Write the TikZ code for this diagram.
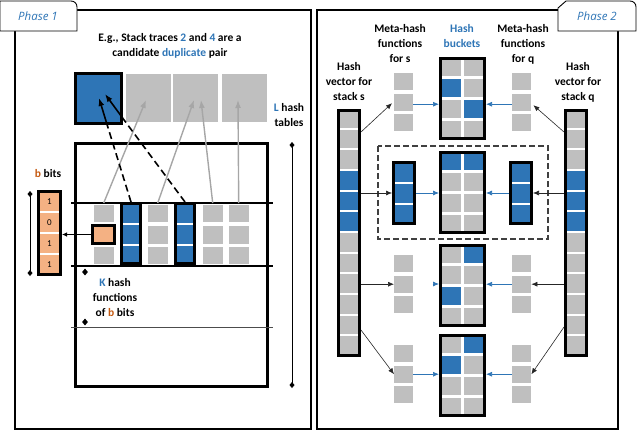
\documentclass[tikz,border=0pt]{standalone}
\usepackage{fontspec}
\setmainfont{Carlito}
\newfontfamily\phasefont{Open Sans}
\usetikzlibrary{arrows.meta,shapes.geometric}
\definecolor{cblue}{HTML}{2E75B6}
\definecolor{cgrey}{HTML}{BFBFBF}
\definecolor{corange}{HTML}{F4B183}
\definecolor{cbrown}{HTML}{C55A11}
\definecolor{lgrey}{HTML}{A6A6A6}
\newcommand\bkt[2]{%
  \foreach \r in {0,...,3}{\foreach \c in {0,1}{%
    \fill[cgrey] ({440.5+\c*23.5},{#1+1.5+\r*20.75}) rectangle +(20.5,17.75);}}%
  \foreach \r/\c in {#2}{%
    \fill[cblue] ({440.5+\c*23.5},{#1+1.5+\r*20.75}) rectangle +(20.5,17.75);}%
}
\newcommand\metasq[2]{%
  \foreach \k in {0,1,2}{\fill[cgrey] (#1,{#2+\k*20.5}) rectangle +(19,17);}%
}
\begin{document}
\begin{tikzpicture}[x=1pt,y=-1pt,
  every node/.style={inner sep=0pt},
  lbl/.style={font=\fontsize{11.5}{15}\selectfont\bfseries, align=center},
  panel/.style={draw=black, line width=2pt},
  tab/.style={draw=black, line width=0.9pt, fill=white},
  phase/.style={text=cblue, font=\phasefont\itshape\fontsize{11.5}{13}\selectfont},
  tbox/.style={draw=black, line width=3pt},
  ghost/.style={minimum width=19pt, minimum height=58pt, anchor=north west},
  gcol/.style={minimum width=19pt, minimum height=61pt, anchor=north west},
  greyarr/.style={draw=lgrey, line width=1.4pt, -{Latex[length=8pt,width=6pt]}},
  dashblk/.style={draw=black, line width=1.6pt, dash pattern=on 7pt off 4pt},
  blkarr/.style={draw=black, line width=1.6pt, -{Latex[length=8pt,width=6pt]}},
  thinarr/.style={draw=black!85, line width=0.6pt, -{Latex[length=6pt,width=5pt]}},
  bluearr/.style={draw=cblue, line width=0.7pt, -{Latex[length=6pt,width=5pt]}},
  dimline/.style={draw=black, line width=0.7pt, {Diamond[length=6pt,width=5pt]}-{Diamond[length=6pt,width=5pt]}},
  dmd/.style={diamond, fill=black, minimum width=6pt, minimum height=7pt},
  bitnum/.style={font=\fontsize{9}{10}\selectfont}
]
\useasboundingbox (0,0) rectangle (640,432);

% ---------------- panels and tabs ----------------
\draw[panel] (15,10) rectangle (311,429);
\draw[panel] (317,10) rectangle (618,429);
\draw[tab] (0,31) -- (0,1) -- (71,1) .. controls (74.5,1) and (77,3.5) .. (77,7) -- (77,31) -- cycle;
\draw[tab] (558,31) -- (558,8) -- (566,1) -- (630,1) .. controls (633.5,1) and (636,3.5) .. (636,7) -- (636,31) -- cycle;
\node[phase] (ph1) at (38,16) {Phase 1};
\node[phase] (ph2) at (597,16) {Phase 2};

% ---------------- Phase 1 ----------------
\node[lbl] (title) at (170,46) {E.g., Stack traces \textcolor{cblue}{2} and \textcolor{cblue}{4} are a\\candidate \textcolor{cblue}{duplicate} pair};

% hash tables
\node[tbox, fill=cblue, minimum width=46pt, minimum height=50pt] (t1) at (98.5,98.5) {};
\node[fill=cgrey, minimum width=45pt, minimum height=48pt] (t2) at (148,98) {};
\node[fill=cgrey, minimum width=45pt, minimum height=48pt] (t3) at (195.5,98) {};
\node[fill=cgrey, minimum width=45pt, minimum height=48pt] (t4) at (244.5,98) {};
\node[lbl] (ltab) at (289,115.5) {\textcolor{cblue}{L} hash\\tables};

% big box
\node[tbox, minimum width=192pt, minimum height=243pt, anchor=center] (hbox) at (171.5,265) {};
\draw[line width=2.4pt] (71,203) -- (273,203);
\draw[line width=2.4pt] (71,266) -- (273,266);
\draw[line width=0.8pt, black!70] (71,327) -- (273,327);

% grey columns
\foreach \x in {94,148,203,229}{
  \fill[cgrey] (\x,205) rectangle +(19.5,17);
  \fill[cgrey] (\x,226) rectangle +(19.5,18);
  \fill[cgrey] (\x,247) rectangle +(19.5,16.5);
}
\node[gcol] (gc1) at (94,203) {};
\node[gcol] (gc2) at (148,203) {};
\node[gcol] (gc3) at (203,203) {};
\node[gcol] (gc4) at (229,203) {};

% blue columns
\foreach \x in {131,185}{
  \fill[cblue] ({\x-10},203) rectangle ({\x+10},264);
  \draw[white, line width=2pt] ({\x-10},224) -- ({\x+10},224);
  \draw[white, line width=2pt] ({\x-10},245) -- ({\x+10},245);
}
\node[tbox, minimum width=19pt, minimum height=60pt] (bc1) at (131,233.5) {};
\node[tbox, minimum width=19pt, minimum height=60pt] (bc2) at (185,233.5) {};

% orange hash function cell
\node[tbox, fill=corange, minimum width=22pt, minimum height=18pt] (org) at (103.5,234.5) {};

% b bits column
\fill[corange] (38,191) rectangle (61,275);
\foreach \y in {212,233,254} \draw[white, line width=2pt] (38,\y) -- (61,\y);
\node[tbox, minimum width=22pt, minimum height=83pt] (bits) at (49.5,233) {};
\node[bitnum] (n1) at (49.5,201.5) {1};
\node[bitnum] (n2) at (49.5,222.5) {0};
\node[bitnum] (n3) at (49.5,243.5) {1};
\node[bitnum] (n4) at (49.5,264.5) {1};
\node[lbl] (bb) at (48,174) {\textcolor{cbrown}{b} bits};
\coordinate (bd1) at (30,191);
\coordinate (bd2) at (30,276);
\draw[dimline] (bd1) -- (bd2);
\draw[-{Latex[length=5pt,width=4.5pt]}, line width=0.8pt] (org.west) -- (org.west -| bits.east);

% L dimension
\coordinate (ld1) at (292,142);
\coordinate (ld2) at (292,388);
\draw[dimline] (ld1) -- (ld2);

% K hash functions
\node[dmd] (kd1) at (85,272) {};
\node[dmd] (kd2) at (85,322) {};
\node[lbl, font=\fontsize{11.5}{14.5}\selectfont\bfseries] (ktxt) at (115,297.5) {\textcolor{cblue}{K} hash\\functions\\of \textcolor{cbrown}{b} bits};

% connectors to hash tables
\coordinate (a2) at (146,100);
\coordinate (a3) at (194,100);
\coordinate (a3b) at (201,100);
\coordinate (a4) at (238,100);
\draw[greyarr] (gc1.north) -- (a2);
\draw[greyarr] (gc2.north) -- (a3);
\draw[greyarr] (gc3.north) -- (a3b);
\draw[greyarr] (gc4.north) -- (a4);
\coordinate (e1) at (107.2,125);
\coordinate (h1) at (99,98);
\coordinate (e2) at (123,118.5);
\coordinate (h2) at (105,94);
\draw[dashblk] (bc1.north) -- (e1);
\draw[blkarr] (e1) -- (h1);
\draw[dashblk] (bc2.north) -- (e2);
\draw[blkarr] (e2) -- (h2);

% ---------------- Phase 2 ----------------
\node[lbl] (mts) at (400,44) {Meta-hash\\functions\\for s};
\node[lbl, text=cblue] (hbk) at (462,36.5) {Hash\\buckets};
\node[lbl] (mtq) at (523,44) {Meta-hash\\functions\\for q};
\node[lbl] (hvst) at (349,82) {Hash\\vector for\\stack s};
\node[lbl] (hvqt) at (578,82) {Hash\\vector for\\stack q};

% hash vectors
\foreach \i in {0,...,11}{
  \fill[cgrey] (338,{109+\i*20.67}) rectangle +(22,18.67);
  \fill[cgrey] (565,{109+\i*20.67}) rectangle +(22,18.67);
}
\foreach \i in {3,4,5}{
  \fill[cblue] (338,{109+\i*20.67}) rectangle +(22,18.67);
  \fill[cblue] (565,{109+\i*20.67}) rectangle +(22,18.67);
}
\node[tbox, minimum width=21pt, minimum height=245pt] (hvs) at (349,233) {};
\node[tbox, minimum width=21pt, minimum height=245pt] (hvq) at (576,233) {};

% buckets
\bkt{57}{1/0,2/1}
\bkt{151}{0/0,0/1}
\bkt{244}{0/1,2/0}
\bkt{334}{0/1,1/0}
\node[tbox, minimum width=44pt, minimum height=80pt] (b1) at (462.5,98.5) {};
\node[tbox, minimum width=44pt, minimum height=80pt] (b2) at (462.5,192.5) {};
\node[tbox, minimum width=44pt, minimum height=80pt] (b3) at (462.5,285.5) {};
\node[tbox, minimum width=44pt, minimum height=80pt] (b4) at (462.5,375.5) {};

% meta-hash squares
\metasq{394}{73}  \metasq{512}{73}
\metasq{394}{255} \metasq{512}{255}
\metasq{394}{345} \metasq{512}{345}
\node[ghost] (ms1) at (394,73) {};
\node[ghost] (mq1) at (512,73) {};
\node[ghost] (ms3) at (394,255) {};
\node[ghost] (mq3) at (512,255) {};
\node[ghost] (ms4) at (394,345) {};
\node[ghost] (mq4) at (512,345) {};

% dashed box with selected sub-vectors
\draw[draw=black!75, line width=1.1pt, dash pattern=on 6pt off 3pt] (378,146) rectangle (548,239);
\foreach \x in {404,521}{
  \fill[cblue] ({\x-11},162) rectangle ({\x+11},224);
  \draw[white, line width=2pt] ({\x-11},182.5) -- ({\x+11},182.5);
  \draw[white, line width=2pt] ({\x-11},203.5) -- ({\x+11},203.5);
}
\node[tbox, minimum width=21pt, minimum height=61pt] (sbs) at (404,193) {};
\node[tbox, minimum width=21pt, minimum height=61pt] (sbq) at (521,193) {};

% black arrows from hash vectors
\draw[thinarr] ([yshift=-23pt]hvs.north east) -- ([xshift=-2pt,yshift=-1pt]ms1.west);
\draw[thinarr] ([yshift=-23pt]hvq.north west) -- ([xshift=2pt,yshift=-3pt]mq1.east);
\draw[thinarr] (hvs.east |- sbs.west) -- (sbs.west);
\draw[thinarr] (hvq.west |- sbq.east) -- (sbq.east);
\draw[thinarr] (hvs.east |- ms3.west) -- (ms3.west);
\draw[thinarr] (hvq.west |- mq3.east) -- (mq3.east);
\draw[thinarr] ([yshift=-221pt]hvs.north east) -- (ms4.west);
\draw[thinarr] ([yshift=-218pt]hvq.north west) -- (mq4.east);

% blue arrows into buckets
\draw[bluearr] ([yshift=-2pt]ms1.east) -- ([yshift=-2pt]b1.west |- ms1.east);
\draw[bluearr] ([yshift=-2pt]mq1.west) -- ([yshift=-2pt]b1.east |- mq1.west);
\draw[bluearr] (sbs.east) -- (b2.west |- sbs.east);
\draw[bluearr] (sbq.west) -- (b2.east |- sbq.west);
\coordinate (t3s) at (432.5,284);
\draw[bluearr] (t3s) -- (b3.west |- t3s);
\draw[bluearr] (mq3.west) -- (b3.east |- mq3.west);
\draw[bluearr] (ms4.east) -- (b4.west |- ms4.east);
\draw[bluearr] (mq4.west) -- (b4.east |- mq4.west);
\end{tikzpicture}
\end{document}
